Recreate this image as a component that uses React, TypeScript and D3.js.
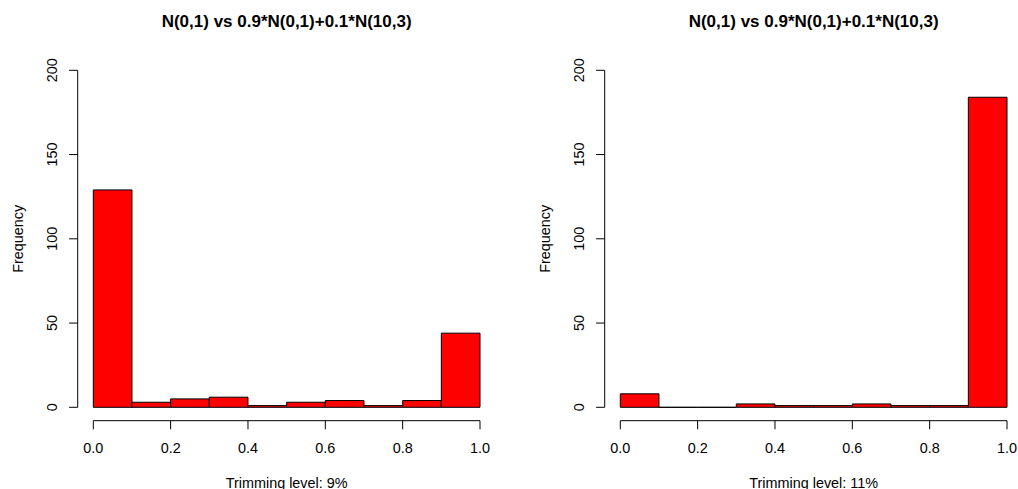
import React from "react";
import * as d3 from "d3";

const breaks = [0, 0.1, 0.2, 0.3, 0.4, 0.5, 0.6, 0.7, 0.8, 0.9, 1.0];
const countsLeft = [129, 3, 5, 6, 1, 3, 4, 1, 4, 44];
const countsRight = [8, 0, 0, 2, 1, 1, 2, 1, 1, 184];
const xTicks = [0, 0.2, 0.4, 0.6, 0.8, 1.0];
const yTicks = [0, 50, 100, 150, 200];
const titleText = "N(0,1) vs 0.9*N(0,1)+0.1*N(10,3)";
const xLabels = ["Trimming level: 9%", "Trimming level: 11%"];
const yLabel = "Frequency";

const W = 1018;
const H = 489;
const FONT = "'Liberation Sans', Arial, Helvetica, sans-serif";

function Panel({ offset, counts, xlab }: { offset: number; counts: number[]; xlab: string }) {
  const x = d3.scaleLinear().domain([0, 1]).range([93.3 + offset, 480 + offset]);
  const y = d3.scaleLinear().domain([0, 200]).range([407.3, 70.3]);
  const axisX = 77.7 + offset;
  const axisY = 420.7;
  const cx = (x(0) + x(1)) / 2;
  const cy = (y(-8) + y(208)) / 2;
  return (
    <g>
      <text x={cx} y={26.7} textAnchor="middle" fontFamily={FONT} fontWeight="bold" fontSize={17}>
        {titleText}
      </text>
      {counts.map((c, i) => {
        const x0 = x(breaks[i]);
        const x1 = x(breaks[i + 1]);
        const y0 = y(0);
        const y1 = y(c);
        const p = d3.path();
        p.moveTo(x0, y0);
        p.lineTo(x0, y1);
        p.lineTo(x1, y1);
        p.lineTo(x1, y0);
        p.closePath();
        return (
          <path key={i} d={p.toString()} fill="#ff0000" stroke="#000" strokeWidth={1} />
        );
      })}
      {/* x axis */}
      <line x1={x(0)} x2={x(1)} y1={axisY} y2={axisY} stroke="#000" strokeWidth={1} />
      {xTicks.map((t) => (
        <g key={t}>
          <line x1={x(t)} x2={x(t)} y1={axisY} y2={axisY + 8.6} stroke="#000" strokeWidth={1} />
          <text x={x(t)} y={453} textAnchor="middle" fontFamily={FONT} fontSize={14.4}>
            {t.toFixed(1)}
          </text>
        </g>
      ))}
      <text x={cx} y={487.8} textAnchor="middle" fontFamily={FONT} fontSize={14.4}>
        {xlab}
      </text>
      {/* y axis */}
      <line x1={axisX} x2={axisX} y1={y(0)} y2={y(200)} stroke="#000" strokeWidth={1} />
      {yTicks.map((t) => (
        <g key={t}>
          <line x1={axisX - 8.6} x2={axisX} y1={y(t)} y2={y(t)} stroke="#000" strokeWidth={1} />
          <text
            transform={`translate(${56.7 + offset},${y(t)}) rotate(-90)`}
            textAnchor="middle"
            fontFamily={FONT}
            fontSize={14.4}
          >
            {t}
          </text>
        </g>
      ))}
      <text
        transform={`translate(${23.3 + offset},${cy}) rotate(-90)`}
        textAnchor="middle"
        fontFamily={FONT}
        fontSize={14.4}
      >
        {yLabel}
      </text>
    </g>
  );
}

export default function App() {
  return (
    <svg
      width={W}
      height={H}
      style={{ position: "absolute", left: 0, top: 0, background: "#fff" }}
    >
      <rect x={0} y={0} width={W} height={H} fill="#fff" />
      <Panel offset={0} counts={countsLeft} xlab={xLabels[0]} />
      <Panel offset={527} counts={countsRight} xlab={xLabels[1]} />
    </svg>
  );
}
